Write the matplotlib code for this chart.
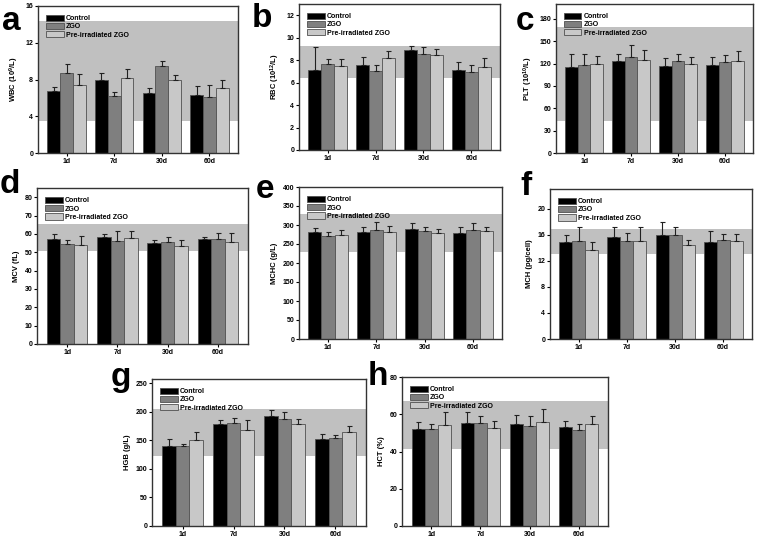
import numpy as np
import matplotlib
matplotlib.use('Agg')
import matplotlib.pyplot as plt
import matplotlib as mpl

mpl.rcParams['font.family'] = ['Liberation Sans', 'DejaVu Sans']
mpl.rcParams['font.weight'] = 'bold'
mpl.rcParams['mathtext.fontset'] = 'custom'
mpl.rcParams['mathtext.rm'] = 'Liberation Sans:bold'
mpl.rcParams['mathtext.bf'] = 'Liberation Sans:bold'
mpl.rcParams['mathtext.default'] = 'bf'

days = ['1d', '7d', '30d', '60d']
groups = ['Control', 'ZGO', 'Pre-irradiated ZGO']

# WBC
wbc_ctrl = [6.7, 7.95, 6.55, 6.3]
wbc_ctrl_err = [0.45, 0.8, 0.5, 0.95]
wbc_zgo = [8.75, 6.15, 9.5, 6.1]
wbc_zgo_err = [0.9, 0.45, 0.55, 1.3]
wbc_pre = [7.35, 8.15, 7.95, 7.05]
wbc_pre_err = [1.3, 0.95, 0.5, 0.9]

# RBC
rbc_ctrl = [7.15, 7.55, 8.88, 7.1]
rbc_ctrl_err = [2.0, 0.75, 0.35, 0.7]
rbc_zgo = [7.7, 7.0, 8.58, 6.92]
rbc_zgo_err = [0.4, 0.58, 0.6, 0.68]
rbc_pre = [7.5, 8.17, 8.43, 7.4]
rbc_pre_err = [0.6, 0.68, 0.58, 0.8]

# PLT
plt_ctrl = [116, 123.5, 116.5, 118.5]
plt_ctrl_err = [16.5, 9, 10.5, 10.3]
plt_zgo = [118, 128.5, 123, 122]
plt_zgo_err = [14.5, 16, 10.5, 9]
plt_pre = [120, 125.5, 119, 123]
plt_pre_err = [10.5, 13, 10.3, 14.5]

# MCV
mcv_ctrl = [57.3, 58.2, 55.3, 57.3]
mcv_ctrl_err = [2.9, 2.0, 1.6, 0.9]
mcv_zgo = [54.4, 56.2, 55.5, 57.1]
mcv_zgo_err = [2.5, 5.1, 2.7, 3.6]
mcv_pre = [54.0, 57.6, 53.3, 55.5]
mcv_pre_err = [4.7, 3.7, 3.6, 4.8]

# MCHC
mchc_ctrl = [281, 281, 289.5, 279]
mchc_ctrl_err = [11, 14, 15.5, 15.5]
mchc_zgo = [272, 287, 284, 287]
mchc_zgo_err = [9.5, 20, 9.5, 18]
mchc_pre = [274, 282, 278, 283.5]
mchc_pre_err = [13, 16, 11, 11]

# MCH
mch_ctrl = [14.87, 15.7, 15.95, 14.87]
mch_ctrl_err = [1.03, 1.5, 2.0, 1.7]
mch_zgo = [15.1, 15.1, 15.95, 15.23]
mch_zgo_err = [2.0, 1.1, 1.2, 0.9]
mch_pre = [13.7, 15.1, 14.35, 14.97]
mch_pre_err = [1.2, 2.05, 0.9, 1.2]

# HGB
hgb_ctrl = [139, 179, 192.5, 151.5]
hgb_ctrl_err = [13.5, 6.5, 10, 10]
hgb_zgo = [139.5, 180, 187, 154]
hgb_zgo_err = [4.7, 8, 12.5, 5.3]
hgb_pre = [150, 168.5, 177.5, 164]
hgb_pre_err = [13.5, 16, 9.5, 10]

# HCT
hct_ctrl = [52, 55.4, 54.8, 53]
hct_ctrl_err = [4, 5.6, 5, 3.2]
hct_zgo = [52.3, 55.5, 53.6, 51.8]
hct_zgo_err = [2.3, 3.6, 5.7, 2.7]
hct_pre = [54.1, 52.5, 55.9, 55]
hct_pre_err = [6.9, 3.7, 7.1, 4.3]

# normal reference ranges (grey bands)
wbc_range = [3.5, 14.4]
rbc_range = [6.4, 9.3]
plt_range = [43, 169]
mcv_range = [50.7, 65.3]
mchc_range = [228, 329]
mch_range = [13.1, 16.8]
hgb_range = [122, 204]
hct_range = [41.4, 67.1]

W, H = 760, 540
fig = plt.figure(figsize=(W / 100, H / 100), dpi=100)

colors = ['#000000', '#7f7f7f', '#c8c8c8']


def panel(box, letter, lpos, ylabel, ylim, yticks, band, data):
    x0, y0, x1, y1 = box
    ax = fig.add_axes([x0 / W, 1 - y1 / H, (x1 - x0) / W, (y1 - y0) / H])
    ax.axhspan(band[0], band[1], color='#c0c0c0', lw=0, zorder=0)
    x = np.arange(len(days))
    w = 0.27
    for i, (vals, errs) in enumerate(data):
        xs = x + (i - 1) * w
        ax.bar(xs, vals, w, color=colors[i], edgecolor='#505050', lw=0.6,
               label=groups[i], zorder=2)
        ax.errorbar(xs, vals, yerr=[np.zeros(len(errs)), errs], fmt='none',
                    ecolor='#202020', elinewidth=0.8, capsize=1.8, capthick=0.8,
                    zorder=3)
    ax.set_xlim(-0.6, 3.6)
    ax.set_ylim(*ylim)
    ax.set_yticks(yticks)
    ax.set_xticks(x)
    ax.set_xticklabels(days)
    ax.tick_params(labelsize=5, length=2, width=0.8, pad=1.5)
    ax.set_ylabel(ylabel, fontsize=5.5, fontweight='bold', labelpad=3)
    for s in ax.spines.values():
        s.set_linewidth(1.0)
        s.set_color('#333333')
    ax.legend(loc='upper left', bbox_to_anchor=(0.02, 0.97), frameon=False,
              fontsize=5, handlelength=2.5, handleheight=1.0,
              labelspacing=0.12, handletextpad=0.3, borderaxespad=0.2)
    fig.text(lpos[0] / W, 1 - lpos[1] / H, letter, fontsize=24,
             fontweight='bold', ha='left', va='baseline')
    return ax


panel((38, 6, 238, 153), 'a', (2, 30), 'WBC (10$^{9}$/L)', (0, 16),
      [0, 4, 8, 12, 16], wbc_range,
      [(wbc_ctrl, wbc_ctrl_err), (wbc_zgo, wbc_zgo_err), (wbc_pre, wbc_pre_err)])
panel((299, 4, 500, 150), 'b', (252, 27), 'RBC (10$^{12}$/L)', (0, 13),
      [0, 2, 4, 6, 8, 10, 12], rbc_range,
      [(rbc_ctrl, rbc_ctrl_err), (rbc_zgo, rbc_zgo_err), (rbc_pre, rbc_pre_err)])
panel((556, 4, 753, 153), 'c', (516, 30), 'PLT (10$^{10}$/L)', (0, 200),
      [0, 30, 60, 90, 120, 150, 180], plt_range,
      [(plt_ctrl, plt_ctrl_err), (plt_zgo, plt_zgo_err), (plt_pre, plt_pre_err)])
panel((37, 188, 248, 344), 'd', (0, 193), 'MCV (fL)', (0, 85),
      [0, 10, 20, 30, 40, 50, 60, 70, 80], mcv_range,
      [(mcv_ctrl, mcv_ctrl_err), (mcv_zgo, mcv_zgo_err), (mcv_pre, mcv_pre_err)])
panel((299, 187, 502, 339), 'e', (256, 198), 'MCHC (g/L)', (0, 400),
      [0, 50, 100, 150, 200, 250, 300, 350, 400], mchc_range,
      [(mchc_ctrl, mchc_ctrl_err), (mchc_zgo, mchc_zgo_err), (mchc_pre, mchc_pre_err)])
panel((550, 189, 752, 339), 'f', (520, 195), 'MCH (pg/cell)', (0, 23),
      [0, 4, 8, 12, 16, 20], mch_range,
      [(mch_ctrl, mch_ctrl_err), (mch_zgo, mch_zgo_err), (mch_pre, mch_pre_err)])
panel((152, 379, 366, 526), 'g', (111, 386), 'HGB (g/L)', (0, 257),
      [0, 50, 100, 150, 200, 250], hgb_range,
      [(hgb_ctrl, hgb_ctrl_err), (hgb_zgo, hgb_zgo_err), (hgb_pre, hgb_pre_err)])
panel((402, 377, 608, 526), 'h', (368, 385), 'HCT (%)', (0, 80),
      [0, 20, 40, 60, 80], hct_range,
      [(hct_ctrl, hct_ctrl_err), (hct_zgo, hct_zgo_err), (hct_pre, hct_pre_err)])

fig.savefig('out.png', dpi=100)
